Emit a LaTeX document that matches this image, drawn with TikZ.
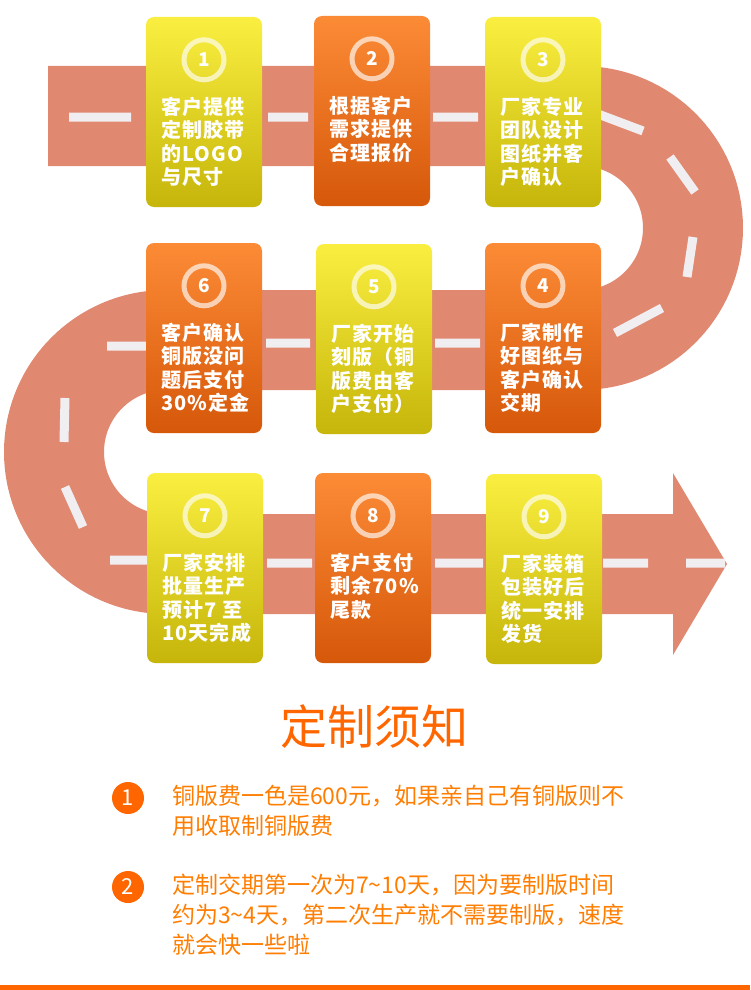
\documentclass[tikz,border=0pt]{standalone}
\usepackage{fontspec}
\setmainfont{Noto Sans CJK SC}
\usepackage{tikz}
\definecolor{roadc}{RGB}{224,136,112}
\definecolor{lanec}{RGB}{240,238,240}
\definecolor{yelA}{RGB}{250,239,64}
\definecolor{yelB}{RGB}{198,181,10}
\definecolor{orgA}{RGB}{252,139,54}
\definecolor{orgB}{RGB}{214,88,10}
\definecolor{tip}{RGB}{255,102,0}
\tikzset{
  road/.style={draw=roadc,line width=100pt,line cap=butt,line join=round}, % the winding road
  lane/.style={draw=lanec,line width=9pt,line cap=butt},                 % centre line marks
  card/.style={rounded corners=8pt,minimum width=116pt,minimum height=190pt,inner sep=0pt},
  ycard/.style={card,top color=yelA,bottom color=yelB},
  ocard/.style={card,top color=orgA,bottom color=orgB},
  ring/.style={circle,draw=white,draw opacity=0.65,line width=5pt,minimum size=40pt,inner sep=0pt,
    text=white,font=\bfseries\fontsize{19}{19}\selectfont},
  steptxt/.style={text=white,align=left,inner sep=0pt,anchor=north west,
    font=\bfseries\fontsize{20}{23.5}\selectfont\addfontfeature{LetterSpace=6}},
  bullet/.style={circle,fill=tip,minimum size=32pt,inner sep=0pt,text=white,font=\fontsize{22}{22}\selectfont},
  note/.style={text=tip!85!yellow,align=left,inner sep=0pt,anchor=north west,font=\fontsize{23}{30}\selectfont},
  title/.style={text=tip,inner sep=0pt,font=\fontsize{47}{47}\selectfont},
}

\begin{document}
\begin{tikzpicture}[x=1pt,y=-1pt]
  \useasboundingbox (0,0) rectangle (750,990);
  % road
  \draw[road] (48,116) -- (581,116) arc (90:-90:112pt) -- (166,340) arc (90:270:112pt) -- (673,564);
  \fill[roadc] (673,473) -- (727,564) -- (673,655) -- cycle;
  \draw[lane] (69,117) -- (131,117) (268,117) -- (308,117) (433,117) -- (478,117)
    (590,111) -- (643,131) (670,157) -- (695,192) (693,237) -- (687,277) (662,308) -- (615,333)
    (435,343) -- (480,343) (266,343) -- (310,343) (107,346) -- (155,346)
    (65,398) -- (64,442) (65,487) -- (83,527)
    (110,560) -- (155,560) (267,563) -- (312,563) (435,563) -- (483,563) (603,563) -- (648,563) (686,563) -- (725,563);
  % steps, row by row
  \node[ycard] (c1) at (204,112) {}; \node[ocard] (c2) at (372,111) {}; \node[ycard] (c3) at (543,112) {};
  \node[ocard] (c6) at (204,338) {}; \node[ycard] (c5) at (374,339) {}; \node[ocard] (c4) at (543,338) {};
  \node[ycard] (c7) at (205,568) {}; \node[ocard] (c8) at (373,568) {}; \node[ycard] (c9) at (544,569) {};
  \node[ring] (n1) at ([yshift=-43pt]c1.north) {1};
  \node[ring] (n2) at ([yshift=-43pt]c2.north) {2};
  \node[ring] (n3) at ([yshift=-43pt]c3.north) {3};
  \node[ring] (n4) at ([yshift=-43pt]c4.north) {4};
  \node[ring] (n5) at ([yshift=-43pt]c5.north) {5};
  \node[ring] (n6) at ([yshift=-43pt]c6.north) {6};
  \node[ring] (n7) at ([yshift=-43pt]c7.north) {7};
  \node[ring] (n8) at ([yshift=-43pt]c8.north) {8};
  \node[ring] (n9) at ([yshift=-43pt]c9.north) {9};
  \node[steptxt] (t1) at ([xshift=15pt,yshift=-80pt]c1.north west) {客户提供\\定制胶带\\的LOGO\\与尺寸};
  \node[steptxt] (t2) at ([xshift=15pt,yshift=-80pt]c2.north west) {根据客户\\需求提供\\合理报价};
  \node[steptxt] (t3) at ([xshift=15pt,yshift=-80pt]c3.north west) {厂家专业\\团队设计\\图纸并客\\户确认};
  \node[steptxt] (t4) at ([xshift=15pt,yshift=-80pt]c4.north west) {厂家制作\\好图纸与\\客户确认\\交期};
  \node[steptxt] (t5) at ([xshift=15pt,yshift=-80pt]c5.north west) {厂家开始\\刻版（铜\\版费由客\\户支付）};
  \node[steptxt] (t6) at ([xshift=15pt,yshift=-80pt]c6.north west) {客户确认\\铜版没问\\题后支付\\30\%定金};
  \node[steptxt] (t7) at ([xshift=15pt,yshift=-80pt]c7.north west) {厂家安排\\批量生产\\预计7 至\\10天完成};
  \node[steptxt] (t8) at ([xshift=15pt,yshift=-80pt]c8.north west) {客户支付\\剩余70\%\\尾款};
  \node[steptxt] (t9) at ([xshift=15pt,yshift=-80pt]c9.north west) {厂家装箱\\包装好后\\统一安排\\发货};
  % notes
  \node[title] (ttl) at (374,727) {定制须知};
  \node[bullet] (b1) at (128,798) {1};
  \node[bullet] (b2) at (128,887) {2};
  \node[note] (m1) at (172,785) {铜版费一色是600元，如果亲自己有铜版则不\\用收取制铜版费};
  \node[note] (m2) at (172,874) {定制交期第一次为7\textasciitilde10天，因为要制版时间\\约为3\textasciitilde4天，第二次生产就不需要制版，速度\\就会快一些啦};
  \fill[tip] (0,985) rectangle (750,990);
\end{tikzpicture}
\end{document}
